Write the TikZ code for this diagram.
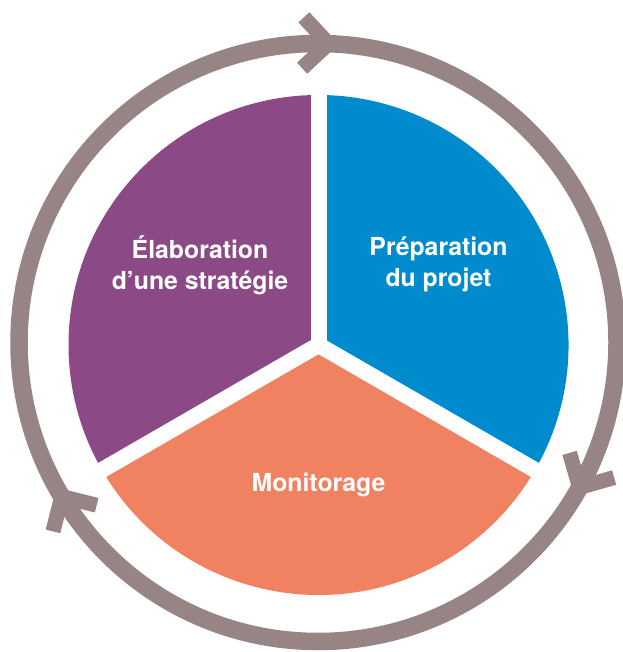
\documentclass[tikz,border=0pt]{standalone}
\usepackage{fontspec}
\usetikzlibrary{calc}
\setmainfont{TeX Gyre Heros}
\definecolor{stratpurple}{HTML}{8B4A86}
\definecolor{prepblue}{HTML}{008BCF}
\definecolor{monorange}{HTML}{F08262}
\definecolor{cyclegray}{HTML}{968584}
\tikzset{
  gapline/.style={white, line width=16pt},
  cyclering/.style={cyclegray, line width=17.5pt},
  chevron/.style={cyclegray, line width=15pt, line cap=butt, line join=miter},
  lbl/.style={text=white, align=center, inner sep=0pt,
    font=\fontsize{24.8}{31}\selectfont\bfseries},
}
\begin{document}
\begin{tikzpicture}[x=1pt,y=1pt]
  \useasboundingbox (0,0) rectangle (622,652);
  \coordinate (P) at (318.5,307);   % centre of the pie
  \coordinate (R) at (318,309.5);   % centre of the cycle ring
  \def\pr{250}
  \def\rr{299}

  % outer cycle ring
  \draw[cyclering] (R) circle[radius=\rr];

  % three sectors
  \fill[stratpurple] (P) -- +(90:\pr) arc[start angle=90, end angle=210, radius=\pr] -- cycle;
  \fill[prepblue] (P) -- +(-30:\pr) arc[start angle=-30, end angle=90, radius=\pr] -- cycle;
  \fill[monorange] (P) -- +(210:\pr) arc[start angle=210, end angle=330, radius=\pr] -- cycle;

  % white separators
  \foreach \a in {90,210,330}
    \draw[gapline] (P) -- +(\a:258);

  % clockwise chevrons on the ring
  \foreach \a in {88,331,211} {
    \coordinate (tip) at ($(R)+(\a:\rr)$);
    \draw[chevron] ($(tip)+(\a+90+45:36)$) -- (tip) -- ($(tip)+(\a+90-45:36)$);
  }

  % labels
  \node[lbl] (strat) at (200,652-265) {Élaboration\\d’une stratégie};
  \node[lbl] (prep) at (438.5,652-264.5) {Préparation\\du projet};
  \node[lbl, anchor=base] (mon) at (318.5,652-492) {Monitorage};
\end{tikzpicture}
\end{document}
